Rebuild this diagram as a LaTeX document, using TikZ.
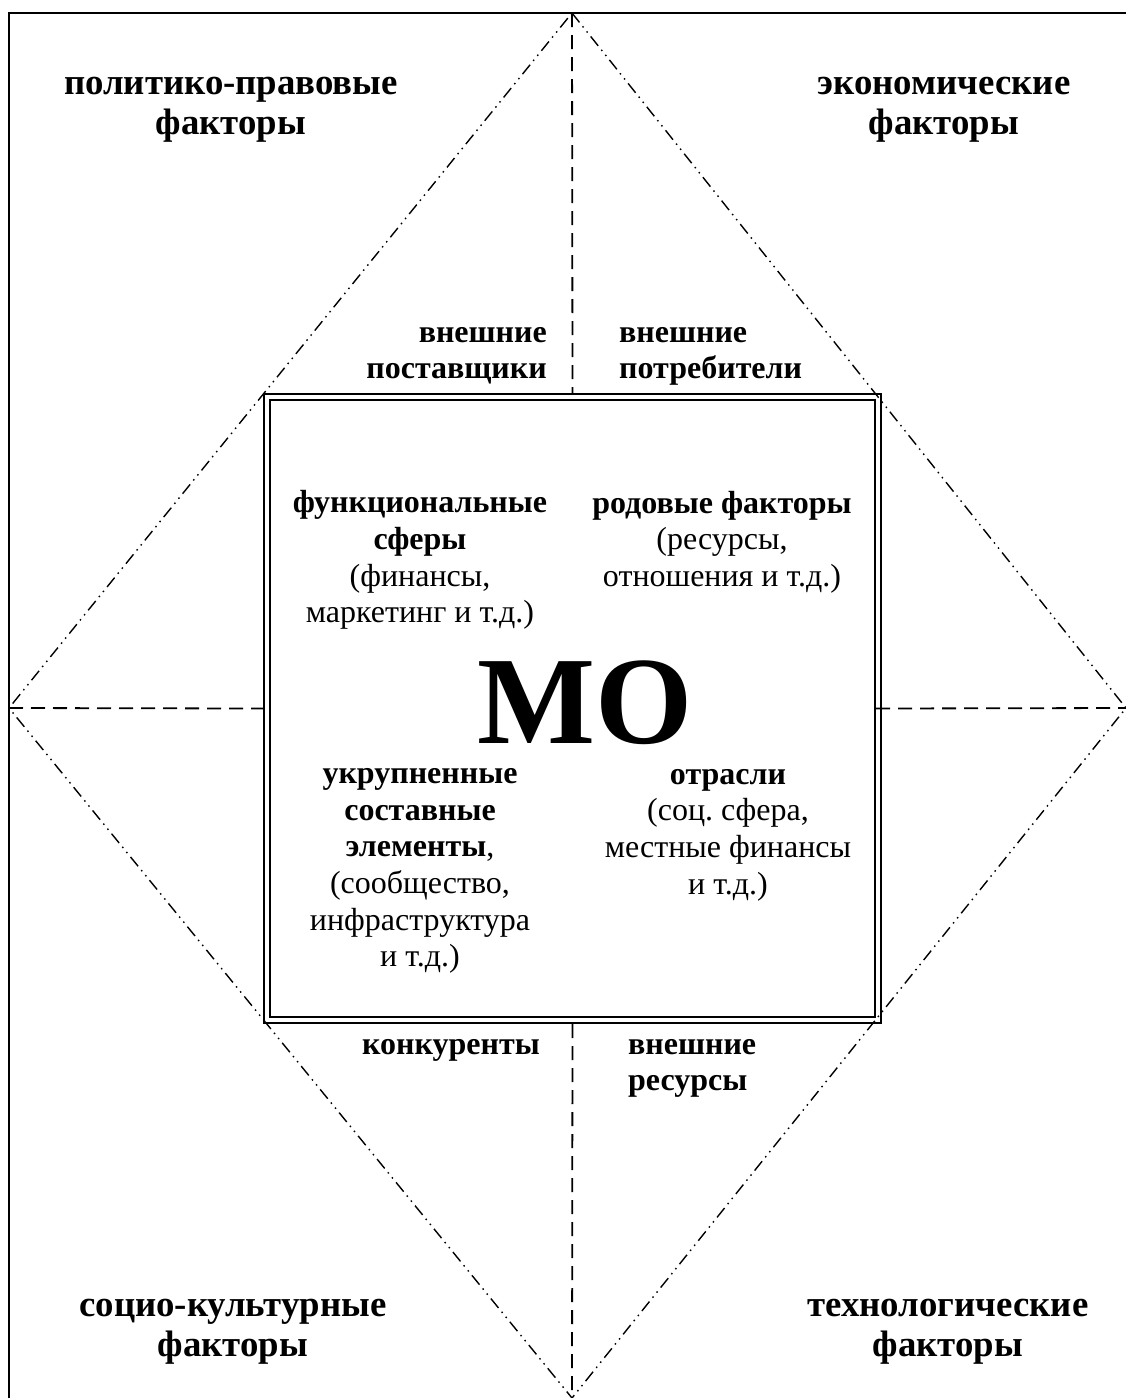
\documentclass[tikz,border=0pt]{standalone}
\usepackage{fontspec}
\setmainfont{Liberation Serif}
\frenchspacing
\begin{document}
\begin{tikzpicture}[x=1pt,y=-1pt,
  frameline/.style={line width=2pt},
  diagline/.style={line width=1.4pt, dash pattern=on 12pt off 5pt on 1.5pt off 5pt on 1.5pt off 5pt},
  axisline/.style={line width=1.8pt, dash pattern=on 14pt off 8pt},
  boxline/.style={line width=2pt},
  biglabel/.style={font=\bfseries\fontsize{36.8}{40}\selectfont, align=center, inner sep=0pt},
  smalllabel/.style={font=\bfseries\fontsize{32}{36}\selectfont, inner sep=0pt},
  innertext/.style={font=\fontsize{32}{36.7}\selectfont, align=center, inner sep=0pt}
]
\useasboundingbox (0,0) rectangle (1126,1398);
% frame
\coordinate (fbl) at (9,1398);
\coordinate (ftl) at (9,13);
\coordinate (ftr) at (1126,13);
\draw[frameline] (fbl) -- (ftl) -- (ftr);
% diamond vertices
\coordinate (top) at (572,13);
\coordinate (right) at (1126,708);
\coordinate (bottom) at (572,1398);
\coordinate (left) at (9,708);
\draw[diagline] (top) -- (right) -- (bottom) -- (left) -- cycle;
% central square (double)
\node[boxline, draw, minimum width=617pt, minimum height=629pt, inner sep=0pt] (sq) at (572.5,708.5) {};
\node[boxline, draw, minimum width=605pt, minimum height=617pt, inner sep=0pt] (sqin) at (572.5,708.5) {};
% dashed axes
\draw[axisline] (top) -- (sq.north);
\draw[axisline] (sq.south) -- (bottom);
\draw[axisline] (left) -- (sq.west);
\draw[axisline] (sqin.east) -- (right);
% outer factor labels
\node[biglabel] (pol) at (231,110) {политико-правовые\\факторы};
\node[biglabel] (eco) at (944,110) {экономические\\факторы};
\node[biglabel] (soc) at (233,1332) {социо-культурные\\факторы};
\node[biglabel] (tech) at (948,1332) {технологические\\факторы};
% environment labels
\node[smalllabel, align=right, anchor=east] (sup) at (547,356) {внешние\\поставщики};
\node[smalllabel, align=left, anchor=west] (cons) at (619,356) {внешние\\потребители};
\node[smalllabel, anchor=base east] (comp) at (540,1054) {конкуренты};
\node[smalllabel, align=left, anchor=west] (res) at (628,1068) {внешние\\ресурсы};
% inner texts
\node[innertext] (func) at (420,560) {\textbf{функциональные}\\\textbf{сферы}\\(финансы,\\маркетинг и т.д.)};
\node[innertext] (gen) at (722,542) {\textbf{родовые факторы}\\(ресурсы,\\отношения и т.д.)};
\node[innertext] (ukr) at (420,871) {\textbf{укрупненные}\\\textbf{составные}\\\textbf{элементы},\\(сообщество,\\инфраструктура\\и т.д.)};
\node[innertext] (otr) at (728,835) {\textbf{отрасли}\\(соц. сфера,\\местные финансы\\и т.д.)};
% MO
\node[font=\bfseries\fontsize{125}{125}\selectfont, inner sep=0pt, text depth=0pt, anchor=base] (mo) at (585,743) {МО};
\end{tikzpicture}
\end{document}
